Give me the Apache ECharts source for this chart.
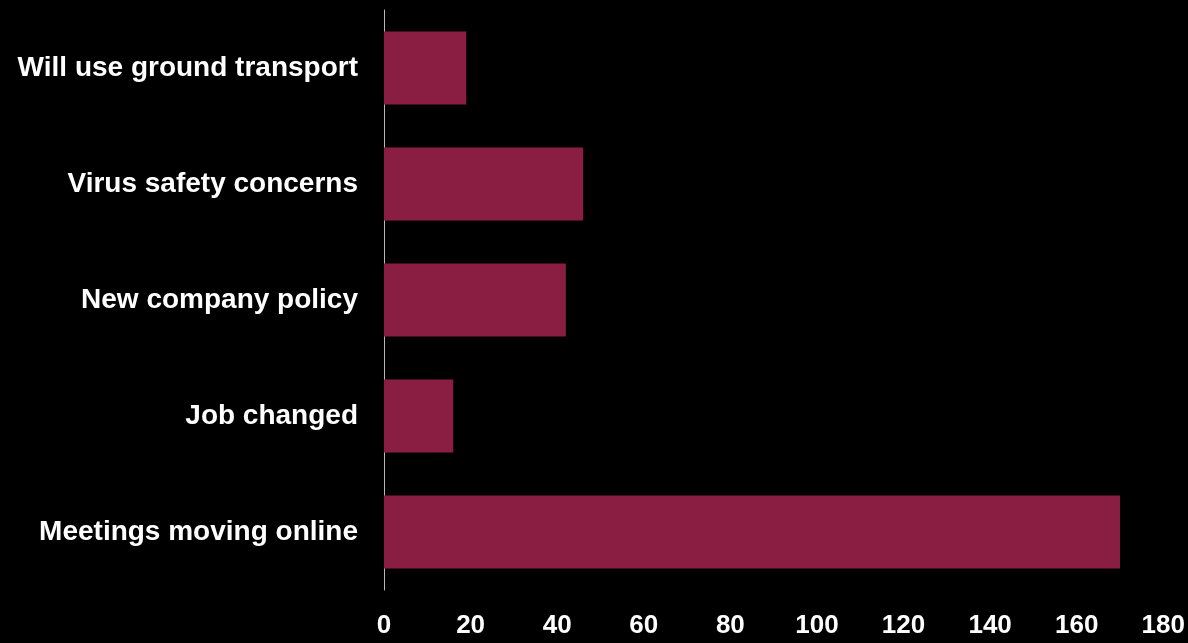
<!DOCTYPE html>
<html>
<head>
<meta charset="utf-8">
<script src="https://cdn.jsdelivr.net/npm/echarts@6/dist/echarts.min.js"></script>
<style>
  html, body { margin: 0; padding: 0; background: #000; }
  #chart { width: 1188px; height: 643px; }
</style>
</head>
<body>
<div id="chart"></div>
<script>
// Reasons for travel change, listed top to bottom
const categories = [
  'Will use ground transport',
  'Virus safety concerns',
  'New company policy',
  'Job changed',
  'Meetings moving online'
];
const counts = [19, 46, 42, 16, 170];
const tickValues = [0, 20, 40, 60, 80, 100, 120, 140, 160, 180];

const chart = echarts.init(document.getElementById('chart'), null, { renderer: 'canvas' });

chart.setOption({
  backgroundColor: '#000000',
  animation: false,
  grid: { left: 384, right: 23, top: 10, bottom: 53, containLabel: false },
  xAxis: {
    type: 'value',
    min: tickValues[0],
    max: tickValues[tickValues.length - 1],
    interval: 20,
    axisLine: { show: false },
    axisTick: { show: false },
    splitLine: { show: false },
    axisLabel: {
      color: '#ffffff',
      fontFamily: 'Liberation Sans, Arial, sans-serif',
      fontWeight: 'bold',
      fontSize: 26,
      margin: 23
    }
  },
  yAxis: {
    type: 'category',
    inverse: true,
    data: categories,
    axisLine: { show: true, lineStyle: { color: '#b8b8b8', width: 1 } },
    axisTick: { show: false },
    splitLine: { show: false },
    axisLabel: {
      color: '#ffffff',
      fontFamily: 'Liberation Sans, Arial, sans-serif',
      fontWeight: 'bold',
      fontSize: 28,
      margin: 26,
      padding: [4, 0, 0, 0]
    }
  },
  series: [{
    type: 'bar',
    data: counts,
    barCategoryGap: '37%',
    itemStyle: { color: '#8a1d42' }
  }]
});
</script>
</body>
</html>
